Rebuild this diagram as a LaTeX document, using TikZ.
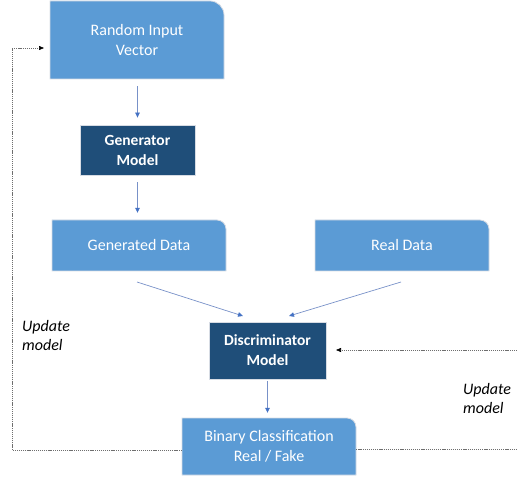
\documentclass[tikz,border=0pt]{standalone}
\usepackage{fontspec}
\setmainfont{Carlito}
\usetikzlibrary{backgrounds,arrows.meta,calc}
\definecolor{lightbox}{RGB}{91,155,213}
\definecolor{darkbox}{RGB}{31,78,121}
\definecolor{boxedge}{RGB}{215,220,228}
\definecolor{arrowline}{RGB}{120,145,200}
\definecolor{arrowtip}{RGB}{68,114,196}
\definecolor{dotline}{RGB}{110,110,110}
\tikzset{
  lightnode/.style={text=white, font=\fontsize{16}{20}\selectfont, align=center, inner sep=0pt},
  darknode/.style={rectangle, fill=darkbox, draw=boxedge, line width=0.8pt, text=white, font=\bfseries\fontsize{15.5}{20}\selectfont, align=center, inner sep=0pt},
  flow/.style={draw=arrowline, line width=0.7pt, -{Triangle[length=5pt,width=4.5pt,fill=arrowtip,color=arrowtip]}},
  loop/.style={draw=dotline, line width=0.6pt, dash pattern=on 1.2pt off 0.9pt},
  looparrow/.style={loop, -{Triangle[length=5pt,width=4pt,fill=black,color=black]}},
  note/.style={font=\itshape\fontsize{16}{19.5}\selectfont, align=left, inner sep=0pt, anchor=north west}
}
\newcommand{\snipfill}[4]{% name, width, height, radius
  \begin{scope}[on background layer]
  \path[fill=lightbox, draw=boxedge, line width=0.8pt]
    ($(#1.center)+(-#2/2,-#3/2)$) -- ($(#1.center)+(-#2/2,#3/2)$)
    -- ($(#1.center)+(#2/2-#4,#3/2)$) arc[start angle=90,end angle=0,radius=#4]
    -- ($(#1.center)+(#2/2,-#3/2)$) -- cycle;
  \end{scope}}
\begin{document}
\begin{tikzpicture}[x=1pt,y=1pt]
\useasboundingbox (0,0) rectangle (517,-478);

\node[lightnode, minimum width=174, minimum height=78] (rand) at (137,-40) {Random Input\\Vector};
\snipfill{rand}{174}{78}{14}
\node[darknode, minimum width=115, minimum height=50] (gen) at (137.5,-150) {Generator\\Model};
\node[lightnode, minimum width=174, minimum height=51] (gdata) at (139,-245.5) {Generated Data};
\snipfill{gdata}{174}{51}{9}
\node[lightnode, minimum width=174, minimum height=51] (rdata) at (402,-245.5) {Real Data};
\snipfill{rdata}{174}{51}{9}
\node[darknode, minimum width=117, minimum height=57] (disc) at (267.5,-350.5) {Discriminator\\Model};
\node[lightnode, minimum width=174, minimum height=57] (bin) at (269,-446.5) {Binary Classification\\Real / Fake};
\snipfill{bin}{174}{57}{9}

% flow arrows
\draw[flow, shorten <=7pt, shorten >=7pt] (rand.south -| gen.north) -- (gen.north);
\draw[flow, shorten <=7pt, shorten >=7pt] (gen.south) -- (gen.south |- gdata.north);
\coordinate (g1) at (137,-282);
\coordinate (g2) at (243,-316);
\coordinate (r1) at (401,-282);
\coordinate (r2) at (289,-316);
\draw[flow] (g1) -- (g2);
\draw[flow] (r1) -- (r2);
\draw[flow, shorten <=2pt, shorten >=5pt] (disc.south) -- (disc.south |- bin.north);

% update loops
\coordinate (lb) at (12,-450);
\coordinate (lt) at (12,-48);
\coordinate (la) at (44,-48);
\draw[loop] (bin.west |- lb) -- (lb) -- (lt);
\draw[looparrow] (lt) -- (la);
\coordinate (rb) at (517,-449);
\coordinate (ra) at (517,-350);
\coordinate (rt) at (336,-350);
\draw[loop] (bin.east |- rb) -- (rb);
\draw[looparrow] (ra) -- (rt);

\node[note] (ul) at (22,-320) {Update\\model};
\node[note] (ur) at (463,-383) {Update\\model};
\end{tikzpicture}
\end{document}
